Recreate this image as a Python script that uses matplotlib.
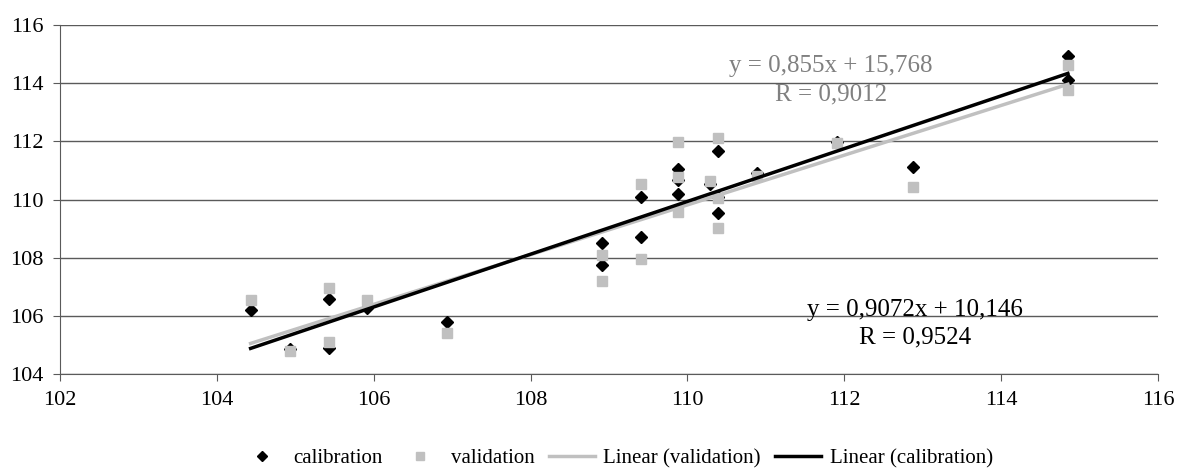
import matplotlib
matplotlib.use("Agg")
import matplotlib.pyplot as plt
import numpy as np

plt.rcParams["font.family"] = ["Liberation Serif", "DejaVu Serif"]

# --- datos ---
x_cal = [104.43, 104.93, 105.43, 105.43, 105.92, 106.93, 108.91, 108.91,
         109.41, 109.41, 109.88, 109.88, 109.88, 110.29, 110.39, 110.39,
         110.39, 110.89, 111.91, 112.87, 114.85, 114.85]
y_cal = [106.2, 104.85, 106.58, 104.9, 106.27, 105.8, 108.5, 107.75,
         110.1, 108.7, 111.05, 110.67, 110.19, 110.55, 111.67, 110.1,
         109.54, 110.9, 111.97, 111.12, 114.93, 114.1]
x_val = [104.43, 104.93, 105.43, 105.43, 105.92, 106.93, 108.91, 108.91,
         109.41, 109.41, 109.88, 109.88, 109.88, 110.29, 110.39, 110.39,
         110.39, 110.89, 111.91, 112.87, 114.85, 114.85]
y_val = [106.55, 104.8, 106.96, 105.1, 106.55, 105.42, 108.1, 107.2,
         110.54, 107.96, 111.98, 110.78, 109.57, 110.64, 112.12, 110.05,
         109.02, 110.8, 111.94, 110.43, 114.63, 113.77]

# tendencias (coeficientes de las etiquetas)
slope_val, icpt_val, r_val = 0.855, 15.768, 0.9012
slope_cal, icpt_cal, r_cal = 0.9072, 10.146, 0.9524

x_ticks = [102, 104, 106, 108, 110, 112, 114, 116]
y_ticks = [104, 106, 108, 110, 112, 114, 116]

fig = plt.figure(figsize=(11.84, 4.73), dpi=100)
ax = fig.add_axes([0.0507, 0.209, 0.9274, 0.738])

GRAY = "#c0c0c0"
FS = 16
FS_EQ = 18

for yt in y_ticks:
    ax.axhline(yt, color="#5a5a5a", lw=1, zorder=1)

ax.plot(x_cal, y_cal, ls="none", marker="D", ms=6.5, color="black",
        label="calibration", zorder=3)
ax.plot(x_val, y_val, ls="none", marker="s", ms=7, color=GRAY,
        label="validation", zorder=4)

xv = np.array([min(x_val), max(x_val)])
xc = np.array([min(x_cal), max(x_cal)])
ax.plot(xv, slope_val * xv + icpt_val, color=GRAY, lw=2.5,
        label="Linear (validation)", zorder=5)
ax.plot(xc, slope_cal * xc + icpt_cal, color="black", lw=2.5,
        label="Linear (calibration)", zorder=6)

ax.text(111.83, 114.6, f"y = {slope_val:.3f}x + {icpt_val:.3f}".replace(".", ","),
        color="#808080", fontsize=FS_EQ, ha="center", va="center", zorder=7)
ax.text(111.83, 113.6, f"R = {r_val:.4f}".replace(".", ","),
        color="#808080", fontsize=FS_EQ, ha="center", va="center", zorder=7)
ax.text(112.9, 106.22, f"y = {slope_cal:.4f}x + {icpt_cal:.3f}".replace(".", ","),
        color="black", fontsize=FS_EQ, ha="center", va="center", zorder=7)
ax.text(112.9, 105.27, f"R = {r_cal:.4f}".replace(".", ","),
        color="black", fontsize=FS_EQ, ha="center", va="center", zorder=7)

ax.set_xlim(102, 116)
ax.set_ylim(104, 116)
ax.set_xticks(x_ticks)
ax.set_yticks(y_ticks)
ax.tick_params(labelsize=FS, direction="out", length=5, color="#5a5a5a", pad=7)
for s in ("top", "right"):
    ax.spines[s].set_visible(False)
for s in ("left", "bottom"):
    ax.spines[s].set_color("#5a5a5a")

fig.legend(loc="lower center", bbox_to_anchor=(0.52, -0.03), ncol=4,
           frameon=False, fontsize=15, handlelength=2.2, handletextpad=0.4,
           columnspacing=0.7, markerscale=0.8)

fig.savefig("out.png", dpi=100)
